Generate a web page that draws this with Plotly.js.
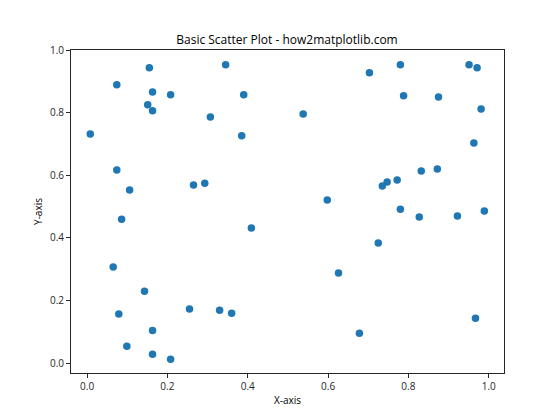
<!DOCTYPE html>
<html>
<head>
<meta charset="utf-8">
<script src="https://cdn.plot.ly/plotly-3.0.1.min.js"></script>
<style>html,body{margin:0;padding:0;background:#fff;}#chart{width:560px;height:420px;}</style>
</head>
<body>
<div id="chart"></div>
<script>
const xValues = [0.008, 0.074, 0.155, 0.163, 0.151, 0.163, 0.208, 0.307, 0.345, 0.390,
  0.385, 0.074, 0.106, 0.265, 0.293, 0.703, 0.780, 0.951, 0.971, 0.788,
  0.875, 0.981, 0.538, 0.963, 0.872, 0.832, 0.772, 0.747, 0.735, 0.598,
  0.086, 0.409, 0.065, 0.143, 0.079, 0.163, 0.099, 0.163, 0.208, 0.255,
  0.330, 0.360, 0.780, 0.827, 0.922, 0.989, 0.725, 0.626, 0.967, 0.678];
const yValues = [0.732, 0.889, 0.943, 0.866, 0.825, 0.806, 0.857, 0.786, 0.953, 0.857,
  0.726, 0.617, 0.553, 0.569, 0.575, 0.927, 0.953, 0.953, 0.943, 0.854,
  0.850, 0.812, 0.796, 0.703, 0.620, 0.614, 0.585, 0.579, 0.566, 0.521,
  0.460, 0.432, 0.307, 0.230, 0.157, 0.105, 0.054, 0.029, 0.013, 0.173,
  0.169, 0.160, 0.492, 0.467, 0.470, 0.486, 0.384, 0.288, 0.144, 0.096];
const tickVals = [0.0, 0.2, 0.4, 0.6, 0.8, 1.0];
const tickText = ['0.0', '0.2', '0.4', '0.6', '0.8', '1.0'];

const fontFam = 'Open Sans, Noto Sans, DejaVu Sans, sans-serif';
const axisCommon = {
  showgrid: false, zeroline: false, showline: true, mirror: true,
  linecolor: '#262626', linewidth: 1,
  ticks: 'outside', ticklen: 4, tickwidth: 1, tickcolor: '#262626',
  tickfont: {family: fontFam, size: 10, color: '#262626'},
  tickvals: tickVals, ticktext: tickText
};
Plotly.newPlot('chart', [{
  type: 'scatter', mode: 'markers', x: xValues, y: yValues,
  marker: {color: '#1f77b4', size: 7.5, line: {width: 0}}
}], {
  width: 560, height: 420,
  margin: {l: 71, r: 56, t: 50, b: 47},
  paper_bgcolor: '#fff', plot_bgcolor: '#fff',
  showlegend: false,
  title: {text: 'Basic Scatter Plot - how2matplotlib.com', x: 0.5125, xanchor: 'center', y: 0.905, yanchor: 'middle',
    font: {family: fontFam, size: 12, color: '#000'}},
  xaxis: Object.assign({}, axisCommon, {range: [-0.040, 1.038],
    title: {text: 'X-axis', font: {family: fontFam, size: 10, color: '#000'}, standoff: 4}}),
  yaxis: Object.assign({}, axisCommon, {range: [-0.031, 1.0],
    title: {text: 'Y-axis', font: {family: fontFam, size: 10, color: '#000'}, standoff: 5}})
}, {displayModeBar: false, staticPlot: true});
</script>
</body>
</html>
